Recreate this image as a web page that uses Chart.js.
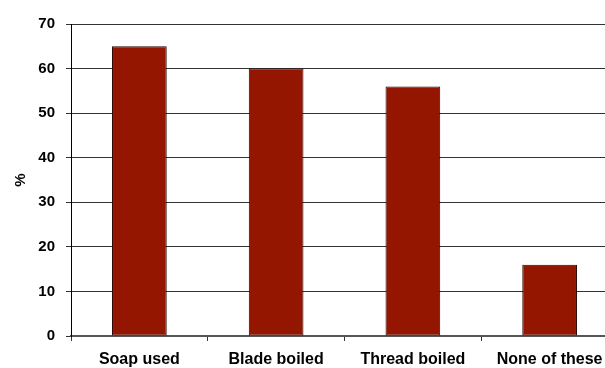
<!DOCTYPE html>
<html>
<head>
<meta charset="utf-8">
<script src="https://cdn.jsdelivr.net/npm/chart.js@4"></script>
<style>
  html, body { margin: 0; padding: 0; overflow: hidden; background: #fff; }
  #wrap { width: 620px; height: 368px; }
</style>
</head>
<body>
<div id="wrap"><canvas id="chart" width="620" height="368"></canvas></div>
<script>
// Data
const categories = ["Soap used", "Blade boiled", "Thread boiled", "None of these"];
const percentValues = [65, 60, 56, 16];
const yTicks = [0, 10, 20, 30, 40, 50, 60, 70];

const barColor = "#941500";
const font = "'Liberation Sans', Arial, sans-serif";

const ctx = document.getElementById("chart");

// Create chart
const chart = new Chart(ctx, {
  type: "bar",
  data: {
    labels: categories,
    datasets: [
      {
        data: percentValues,
        backgroundColor: barColor,
        borderColor: "#2a0500",
        borderWidth: 1,
        borderSkipped: false,
        categoryPercentage: 0.4,
        barPercentage: 1,
      },
    ],
  },
  options: {
    responsive: false,
    animation: false,
    layout: { padding: { top: 24, right: 2, left: 0, bottom: 0 } },
    plugins: {
      legend: { display: false },
      tooltip: { enabled: false },
    },
    scales: {
      x: {
        grid: {
          offset: true,
          drawOnChartArea: false,
          tickLength: 5,
          color: "#333",
        },
        border: { color: "#555", width: 2 },
        ticks: {
          color: "#000",
          font: { family: font, size: 16, weight: "bold" },
          padding: 9,
          maxRotation: 0,
        },
        afterFit: (scale) => {
          scale.height = 32;
        },
      },
      y: {
        min: 0,
        max: 70,
        afterBuildTicks: (scale) => {
          scale.ticks = yTicks.map((v) => ({ value: v }));
        },
        grid: {
          color: "#333",
          tickLength: 5,
        },
        border: { color: "#000", width: 1 },
        ticks: {
          color: "#000",
          font: { family: font, size: 15, weight: "bold" },
          padding: 11,
        },
        title: {
          display: true,
          text: "%",
          color: "#000",
          font: { family: font, size: 15, weight: "bold" },
          padding: { top: 12, bottom: 0 },
        },
        afterFit: (scale) => {
          scale.width = 71;
        },
      },
    },
  },
});
</script>
</body>
</html>
